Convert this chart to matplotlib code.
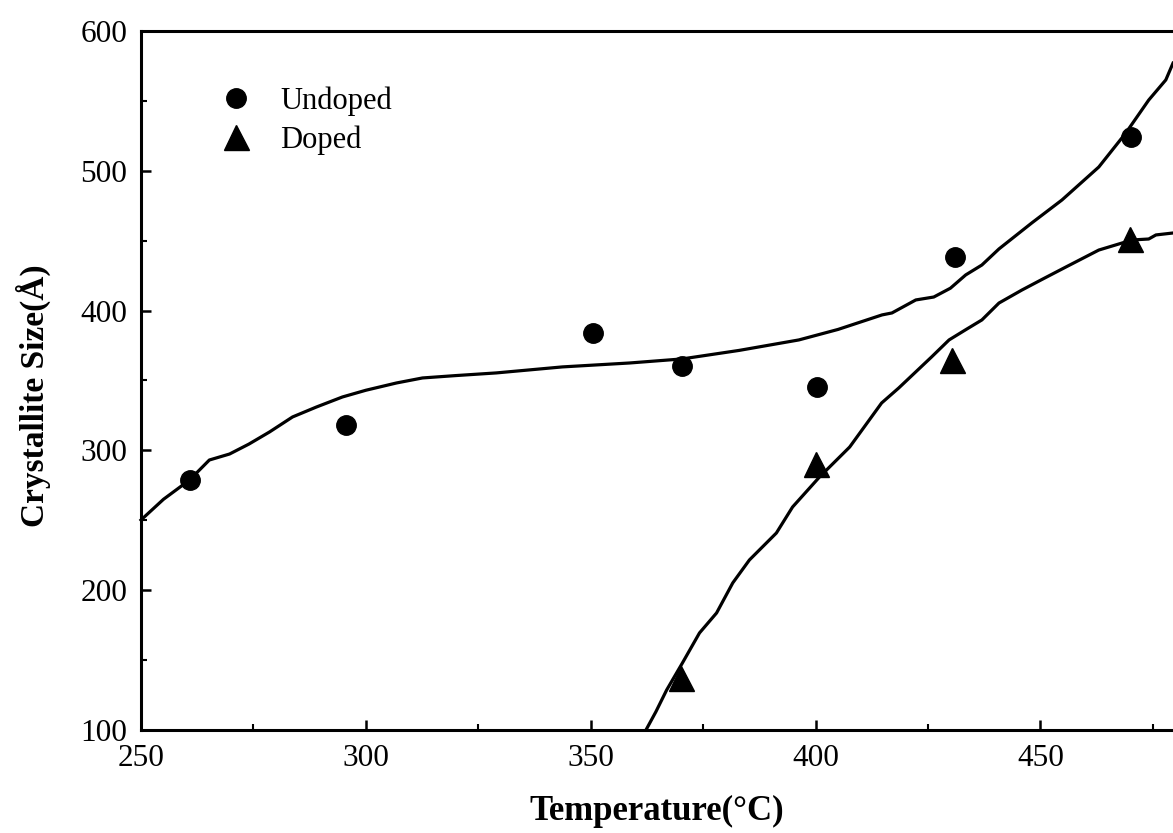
import numpy as np
import matplotlib.pyplot as plt
from matplotlib.ticker import MultipleLocator

plt.rcParams['font.family'] = ['Liberation Serif', 'DejaVu Serif']

# measured points
undoped_t = [260.8, 295.6, 350.5, 370.3, 400.4, 431.1, 470.2]
undoped_size = [279, 318, 384, 360, 345, 438, 524]
doped_t = [370.0, 400.0, 430.4, 470.0]
doped_size = [137, 290, 365, 451]

# fitted curves
undoped_fit_t = [250.0, 255.0, 260.8, 265.2, 269.7, 274.0, 278.6, 283.7, 289.0, 294.8,
                 300.0, 306.8, 312.6, 320.0, 329.0, 343.7, 358.6, 370.3, 383.0, 396.3,
                 405.0, 414.8, 417.0, 422.3, 426.3, 430.0, 433.4, 437.0, 440.8, 448.1,
                 454.8, 463.0, 469.0, 474.1, 477.9, 479.5]
undoped_fit_size = [250.2, 265.0, 278.8, 293.1, 297.4, 304.5, 313.2, 323.9, 331.0, 338.2,
                    343.0, 348.2, 351.8, 353.5, 355.4, 359.7, 362.5, 365.4, 371.5, 379.0,
                    386.5, 396.9, 398.3, 407.6, 409.7, 416.0, 425.5, 432.6, 444.1, 462.7,
                    479.1, 502.7, 527.0, 550.6, 565.0, 577.0]
doped_fit_t = [362.3, 364.5, 366.9, 370.4, 374.2, 378.0, 381.6, 385.3, 391.3, 394.9,
               400.9, 407.6, 414.7, 418.5, 425.8, 429.7, 433.5, 437.0, 440.8, 445.9,
               450.5, 455.7, 463.0, 470.4, 474.1, 475.7, 479.5]
doped_fit_size = [100.0, 113.0, 128.6, 147.9, 169.4, 183.7, 205.2, 221.6, 240.9, 259.5,
                  281.0, 302.4, 333.9, 344.6, 366.8, 379.0, 386.5, 393.3, 405.4, 414.7,
                  422.5, 431.2, 443.3, 450.5, 451.2, 454.1, 455.5]

fig = plt.figure(figsize=(11.73, 8.33), dpi=100)
ax = fig.add_axes([0.1202, 0.1237, 0.8798, 0.8391])

ax.plot(undoped_fit_t, undoped_fit_size, color='black', lw=2.3, clip_on=False)
ax.plot(doped_fit_t, doped_fit_size, color='black', lw=2.3)
h1, = ax.plot(undoped_t, undoped_size, 'o', color='black', ms=14, label='Undoped')
h2, = ax.plot(doped_t, doped_size, '^', color='black', ms=18, label='Doped')

ax.set_xlim(250, 479.5)
ax.set_ylim(100, 600)
ax.xaxis.set_major_locator(MultipleLocator(50))
ax.xaxis.set_minor_locator(MultipleLocator(25))
ax.yaxis.set_major_locator(MultipleLocator(100))
ax.yaxis.set_minor_locator(MultipleLocator(50))

ax.spines['right'].set_visible(False)
for s in ['left', 'bottom', 'top']:
    ax.spines[s].set_linewidth(2.2)

ax.tick_params(which='major', direction='in', length=7, width=1.8, labelsize=22.5, pad=10)
ax.tick_params(which='minor', direction='in', length=4, width=1.5)
ax.tick_params(top=False, right=False, which='both')

ax.set_xlabel('Temperature(°C)', fontsize=25, fontweight='bold')
ax.set_ylabel('Crystallite Size(Å)', fontsize=24, fontweight='bold')
ax.xaxis.set_label_coords(0.5, -0.093)
ax.yaxis.set_label_coords(-0.087, 0.478)

ax.legend(handles=[h1, h2], loc='upper left', bbox_to_anchor=(0.052, 0.96), frameon=False,
          fontsize=22, numpoints=1, handlelength=0.9, handletextpad=1.0, labelspacing=0.3)

plt.savefig('out.png', dpi=100)
